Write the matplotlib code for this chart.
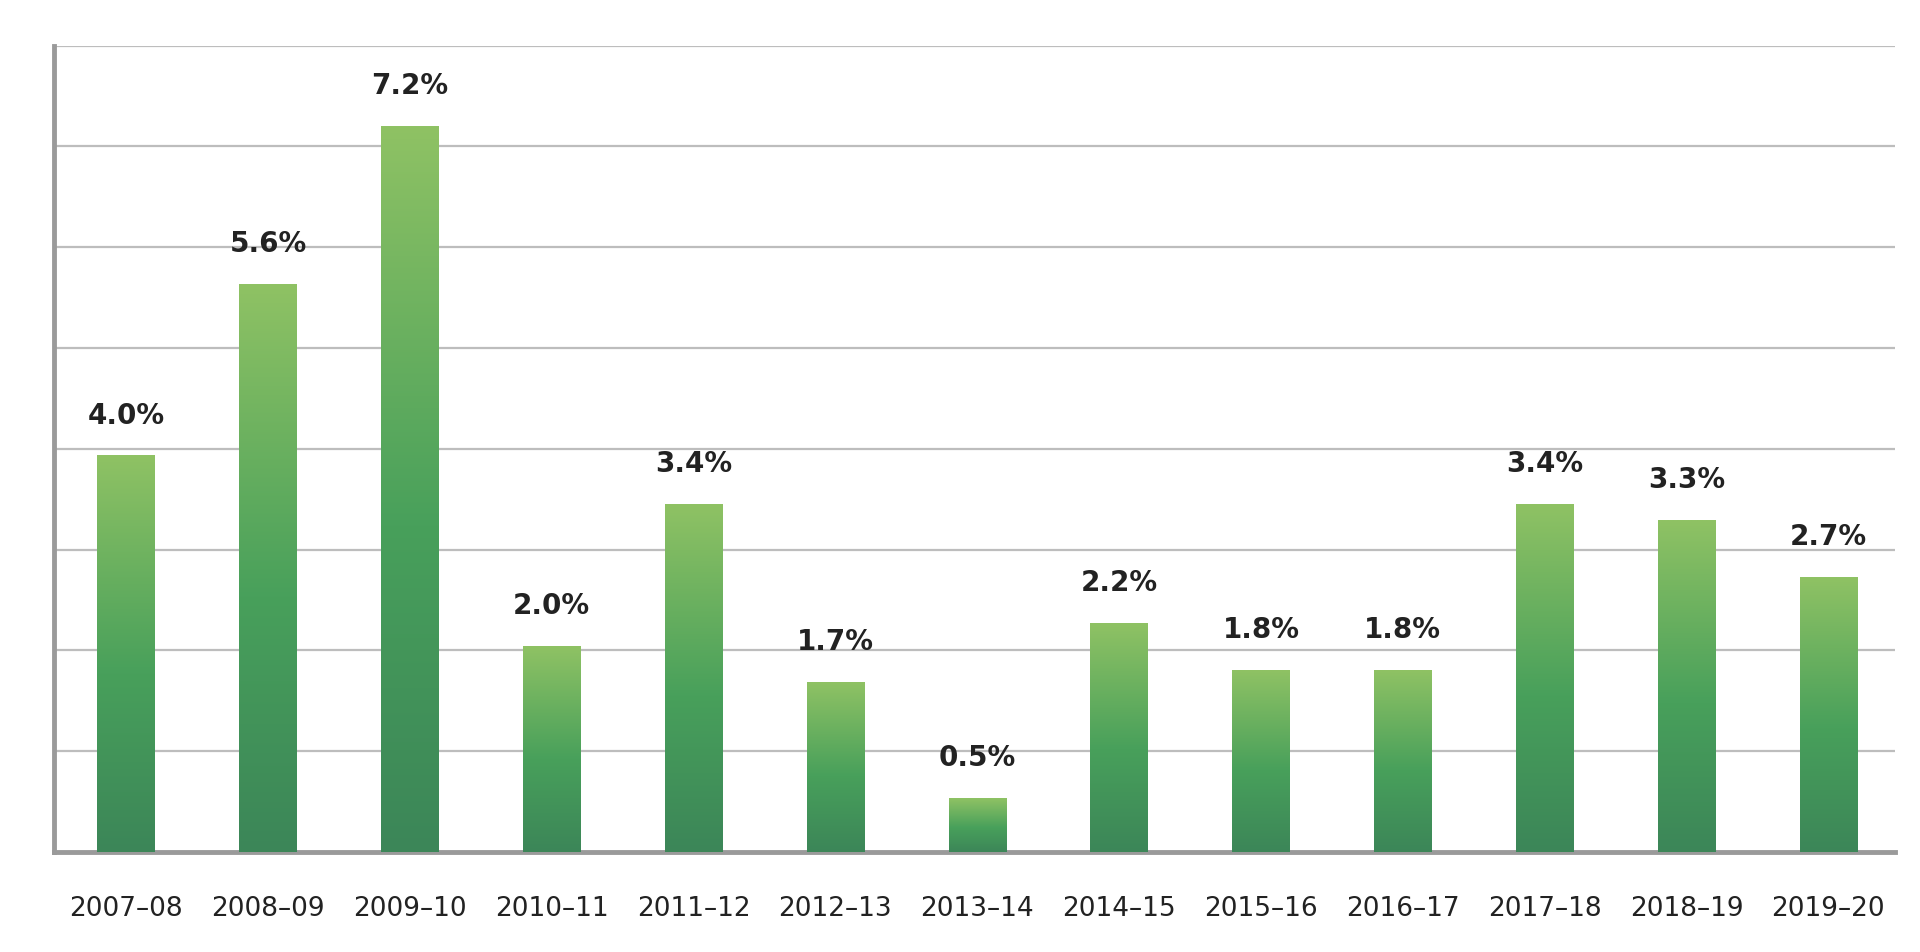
import numpy as np
import matplotlib
matplotlib.use("Agg")
import matplotlib.pyplot as plt
from matplotlib.colors import LinearSegmentedColormap

years = ["2007–08", "2008–09", "2009–10", "2010–11", "2011–12", "2012–13", "2013–14",
         "2014–15", "2015–16", "2016–17", "2017–18", "2018–19", "2019–20"]
growth = [3.93, 5.63, 7.2, 2.04, 3.45, 1.68, 0.53, 2.27, 1.8, 1.8, 3.45, 3.29, 2.72]
labels = ["4.0%", "5.6%", "7.2%", "2.0%", "3.4%", "1.7%", "0.5%",
          "2.2%", "1.8%", "1.8%", "3.4%", "3.3%", "2.7%"]

fig = plt.figure(figsize=(19.2, 9.52), dpi=100)
ax = fig.add_axes([0.028, 0.105, 0.959, 0.847])

# each bar gets its own light-to-dark vertical gradient
cmap = LinearSegmentedColormap.from_list(
    "grn", [(0, "#3C8658"), (0.45, "#48A05B"), (1, "#8FC264")])
grad = np.linspace(0, 1, 256).reshape(-1, 1)

width = 0.405
x = np.arange(len(years))
for xi, v, lab in zip(x, growth, labels):
    ax.imshow(grad, extent=[xi - width / 2, xi + width / 2, 0, v], origin="lower",
              aspect="auto", cmap=cmap, zorder=3, interpolation="bilinear")
    ax.annotate(lab, (xi, v), xytext=(0, 19), textcoords="offset points",
                ha="center", va="bottom", fontsize=20, fontweight="bold", color="#222222")

ax.set_xlim(-0.51, 12.47)
ax.set_ylim(0, 8)
ax.set_yticks(np.arange(1, 9))
ax.yaxis.grid(True, color="#bdbdbd", linewidth=1.6, zorder=1)
ax.set_axisbelow(True)
ax.tick_params(axis="y", left=False, labelleft=False)
ax.set_xticks(x)
ax.set_xticklabels(years, fontsize=19, color="#222222")
ax.tick_params(axis="x", bottom=False, pad=28)

for s in ["top", "right"]:
    ax.spines[s].set_visible(False)
for s in ["left", "bottom"]:
    ax.spines[s].set_color("#9a9a9a")
    ax.spines[s].set_linewidth(3.5)

fig.savefig("out.png", dpi=100)
